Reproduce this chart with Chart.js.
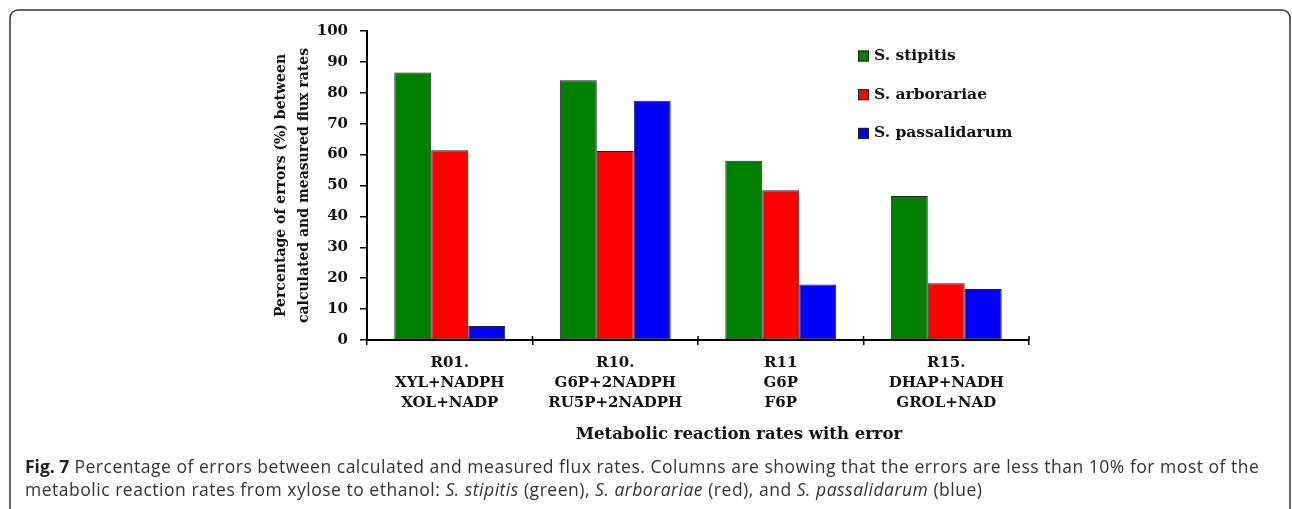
<!DOCTYPE html>
<html>
<head>
<meta charset="utf-8">
<script src="https://cdn.jsdelivr.net/npm/chart.js@4"></script>
<style>
  html, body { margin: 0; padding: 0; background: #fff; }
  #wrap { position: relative; width: 1292px; height: 509px; overflow: hidden; }
  #caption {
    position: absolute; left: 25px; top: 455px; width: 1262px;
    font-family: 'Open Sans', sans-serif; font-size: 17.5px; line-height: 23px;
    letter-spacing: 0.52px; color: #333; white-space: nowrap;
  }
  #caption b { color: #222; letter-spacing: 0; }
</style>
</head>
<body>
<div id="wrap">
  <canvas id="myChart" width="1292" height="509"></canvas>
  <div id="caption"><b>Fig. 7</b> Percentage of errors between calculated and measured flux rates. Columns are showing that the errors are less than 10% for most of the<br>metabolic reaction rates from xylose to ethanol: <i>S. stipitis</i> (green), <i>S. arborariae</i> (red), and <i>S. passalidarum</i> (blue)</div>
</div>
<script>
(() => {
    'use strict';

    const reactions = [
        ['R01.', 'XYL+NADPH', 'XOL+NADP'],
        ['R10.', 'G6P+2NADPH', 'RU5P+2NADPH'],
        ['R11', 'G6P', 'F6P'],
        ['R15.', 'DHAP+NADH', 'GROL+NAD']
    ];
    const stipitis = [86.6, 84.1, 58.0, 46.6];
    const arborariae = [61.4, 61.2, 48.5, 18.4];
    const passalidarum = [4.5, 77.4, 18.0, 16.5];
    const yTicks = [0, 10, 20, 30, 40, 50, 60, 70, 80, 90, 100];

    const serif = '"DejaVu Serif", serif';

    // rounded frame round the figure
    const frame = {
        id: 'frame',
        beforeDraw(chart) {
            const c = chart.ctx;
            c.save();
            c.fillStyle = '#fff';
            c.fillRect(0, 0, chart.width, chart.height);
            c.strokeStyle = '#333';
            c.lineWidth = 1.5;
            c.beginPath();
            c.roundRect(10, 10, 1280, 520, 8);
            c.stroke();
            c.restore();
        }
    };

    // legend in the top right, ticks crossing the x axis, x axis title
    const extras = {
        id: 'extras',
        afterDraw(chart) {
            const c = chart.ctx;
            const x = chart.scales.x;
            c.save();

            const half = (x.getPixelForValue(1) - x.getPixelForValue(0)) / 2;
            c.strokeStyle = '#000';
            c.lineWidth = 1.5;
            for (let i = 0; i <= reactions.length; i++) {
                const px = x.getPixelForValue(i) - half;
                c.beginPath();
                c.moveTo(px, x.top - 4);
                c.lineTo(px, x.top);
                c.stroke();
            }

            c.font = 'bold 15.5px ' + serif;
            c.textBaseline = 'middle';
            chart.data.datasets.forEach((ds, i) => {
                const y = 56 + i * 38.7;
                c.fillStyle = ds.backgroundColor;
                c.fillRect(858, y - 5.5, 11, 11);
                c.strokeStyle = '#222';
                c.lineWidth = 1;
                c.strokeRect(858.5, y - 5, 10, 10);
                c.fillStyle = '#111';
                c.textAlign = 'left';
                c.fillText(ds.label, 874, y);
            });

            c.fillStyle = '#111';
            c.textAlign = 'center';
            c.font = 'bold 16.5px ' + serif;
            c.fillText('Metabolic reaction rates with error', 739, 435);
            c.restore();
        }
    };

    const ctx = document.getElementById('myChart').getContext('2d');
    // eslint-disable-next-line no-unused-vars
    const myChart = new Chart(ctx, {
        type: 'bar',
        data: {
            labels: reactions,
            datasets: [{
                label: 'S. stipitis',
                data: stipitis,
                backgroundColor: '#008000'
            }, {
                label: 'S. arborariae',
                data: arborariae,
                backgroundColor: '#ff0000'
            }, {
                label: 'S. passalidarum',
                data: passalidarum,
                backgroundColor: '#0000ff'
            }]
        },
        options: {
            responsive: false,
            animation: false,
            devicePixelRatio: 1,
            layout: {
                padding: { left: 270, right: 263, top: 31, bottom: 59 }
            },
            datasets: {
                bar: {
                    borderColor: '#222',
                    borderWidth: 1,
                    borderSkipped: false,
                    barPercentage: 1,
                    categoryPercentage: 0.67
                }
            },
            scales: {
                x: {
                    afterFit: (s) => { s.height = 110; },
                    grid: {
                        drawOnChartArea: false,
                        color: '#000',
                        lineWidth: 1.5,
                        tickLength: 5
                    },
                    border: { color: '#000', width: 2 },
                    ticks: {
                        color: '#111',
                        padding: 8,
                        maxRotation: 0,
                        font: { family: serif, size: 15, weight: 'bold', lineHeight: '20px' }
                    }
                },
                y: {
                    min: 0,
                    max: 100,
                    afterFit: (s) => { s.width = 97; },
                    afterBuildTicks: (s) => { s.ticks = yTicks.map(v => ({ value: v })); },
                    grid: {
                        drawOnChartArea: false,
                        color: '#000',
                        lineWidth: 1.5,
                        tickLength: 7
                    },
                    border: { color: '#000', width: 2 },
                    ticks: {
                        color: '#111',
                        padding: 12,
                        font: { family: serif, size: 15, weight: 'bold' }
                    },
                    title: {
                        display: true,
                        text: ['Percentage of errors (%) between', 'calculated and measured flux rates'],
                        color: '#111',
                        padding: 0,
                        font: { family: serif, size: 14, weight: 'bold', lineHeight: '23px' }
                    }
                }
            },
            plugins: {
                legend: { display: false },
                tooltip: { enabled: false }
            }
        },
        plugins: [frame, extras]
    });
})();
</script>
</body>
</html>
